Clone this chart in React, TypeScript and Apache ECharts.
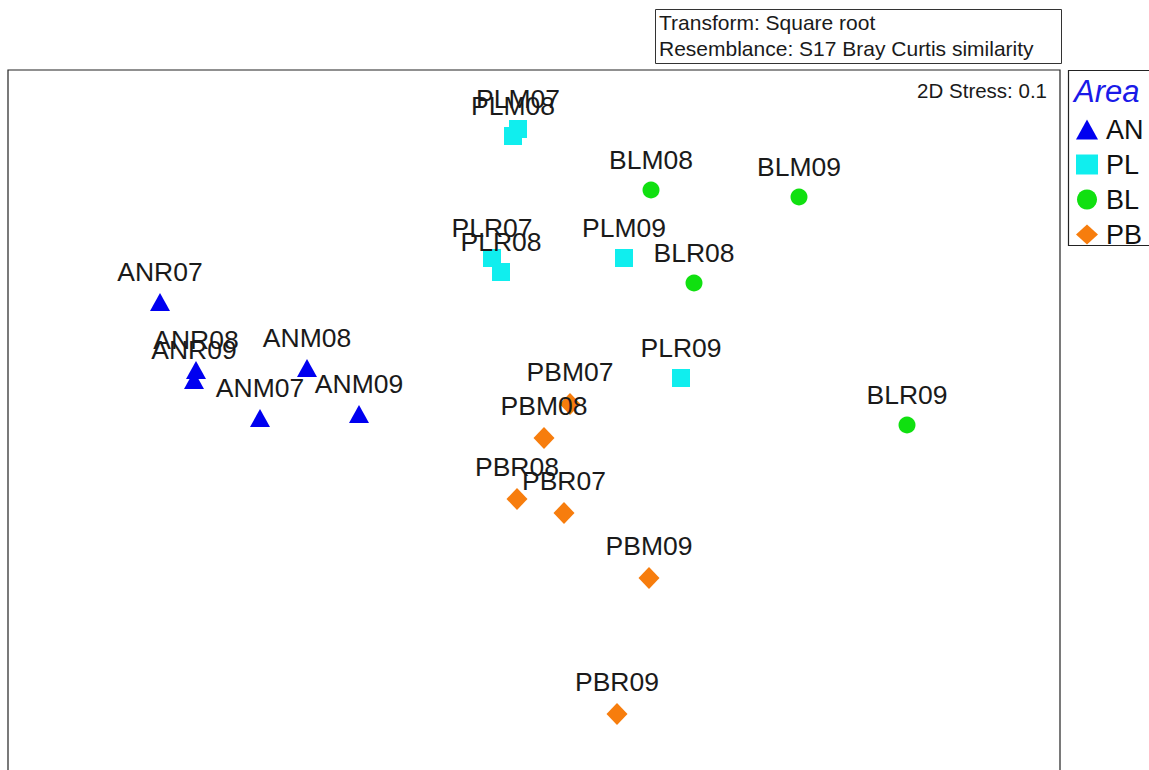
import React, { useEffect, useRef } from "react";
import * as echarts from "echarts";

// MDS coordinates
const anNames = ["ANR07", "ANR08", "ANR09", "ANM08", "ANM07", "ANM09"];
const anX = [-0.92, -0.83, -0.835, -0.5525, -0.67, -0.4225];
const anY = [0.295, 0.125, 0.1, 0.13, 0.005, 0.015];

const plNames = ["PLM07", "PLM08", "PLR07", "PLR08", "PLM09", "PLR09"];
const plX = [-0.025, -0.0375, -0.09, -0.0675, 0.24, 0.3825];
const plY = [0.7275, 0.71, 0.405, 0.37, 0.405, 0.105];

const blNames = ["BLM08", "BLM09", "BLR08", "BLR09"];
const blX = [0.3075, 0.6775, 0.415, 0.9475];
const blY = [0.575, 0.5575, 0.3425, -0.0125];

const pbNames = ["PBM07", "PBM08", "PBR08", "PBR07", "PBM09", "PBR09"];
const pbX = [0.105, 0.04, -0.0275, 0.09, 0.3025, 0.2225];
const pbY = [0.04, -0.045, -0.1975, -0.2325, -0.395, -0.735];

const groups = ["AN", "PL", "BL", "PB"];
const noteLines = ["Transform: Square root", "Resemblance: S17 Bray Curtis similarity"];
const stressText = "2D Stress: 0.1";

const FONT = "Arial, 'Liberation Sans', Helvetica, sans-serif";

function pts(names: string[], xs: number[], ys: number[]) {
  return names.map((n, i) => ({ name: n, value: [xs[i], ys[i]] }));
}

export default function App() {
  const ref = useRef<HTMLDivElement>(null);
  useEffect(() => {
    if (!ref.current) return;
    const chart = echarts.init(ref.current, undefined, { renderer: "svg" });
    const label = {
      show: true,
      position: "top",
      distance: 8,
      formatter: (p: any) => p.name,
      color: "#1a1a1a",
      fontSize: 26.5,
      fontFamily: FONT,
    };
    const mk = (name: string, data: any[], symbol: string, size: any, color: string) => ({
      name,
      type: "scatter",
      data,
      symbol,
      symbolSize: size,
      itemStyle: { color, opacity: 1 },
      label,
      emphasis: { disabled: true },
    });
    chart.setOption({
      animation: false,
      backgroundColor: "#ffffff",
      grid: {
        left: 8,
        top: 70,
        width: 1052,
        height: 720,
        show: true,
        borderColor: "#222",
        borderWidth: 1.2,
        backgroundColor: "transparent",
      },
      xAxis: {
        type: "value",
        min: -1.3,
        max: 1.33,
        show: false,
      },
      yAxis: {
        type: "value",
        min: -0.925,
        max: 0.875,
        show: false,
      },
      legend: {
        data: groups,
        orient: "vertical",
        left: 1071,
        top: 111,
        itemWidth: 22,
        itemHeight: 20,
        itemGap: 8,
        textStyle: { fontSize: 27, color: "#111", fontFamily: FONT, padding: [0, 0, 0, 3] },
        selectedMode: false,
      },
      series: [
        mk("AN", pts(anNames, anX, anY), "triangle", [20, 18], "#0000f0"),
        mk("PL", pts(plNames, plX, plY), "rect", [18, 18], "#10eeee"),
        mk("BL", pts(blNames, blX, blY), "circle", 17, "#10e010"),
        mk("PB", pts(pbNames, pbX, pbY), "diamond", [21, 22], "#f77d0d"),
      ],
      graphic: [
        {
          type: "rect",
          shape: { x: 655.5, y: 9.5, width: 406, height: 54 },
          style: { fill: "#fff", stroke: "#333", lineWidth: 1 },
        },
        {
          type: "text",
          x: 659,
          y: 22,
          style: { text: noteLines[0], fontSize: 21, fontFamily: FONT, fill: "#1a1a1a", verticalAlign: "middle" },
        },
        {
          type: "text",
          x: 659,
          y: 48,
          style: { text: noteLines[1], fontSize: 21, fontFamily: FONT, fill: "#1a1a1a", verticalAlign: "middle" },
        },
        {
          type: "text",
          x: 1047,
          y: 90,
          style: { text: stressText, fontSize: 20.5, fontFamily: FONT, fill: "#1a1a1a", align: "right", verticalAlign: "middle" },
        },
        {
          type: "rect",
          shape: { x: 1068.5, y: 70.5, width: 100, height: 175 },
          style: { fill: "transparent", stroke: "#222", lineWidth: 1.2 },
        },
        {
          type: "text",
          x: 1074,
          y: 91,
          style: { text: "Area", fontSize: 31, fontStyle: "italic", fontFamily: FONT, fill: "#1a1ae8", verticalAlign: "middle" },
        },
      ],
    });
    return () => chart.dispose();
  }, []);
  return (
    <div style={{ position: "absolute", left: 0, top: 0, width: 1149, height: 770, overflow: "hidden" }}>
      <div ref={ref} style={{ width: 1149, height: 810 }} />
    </div>
  );
}
